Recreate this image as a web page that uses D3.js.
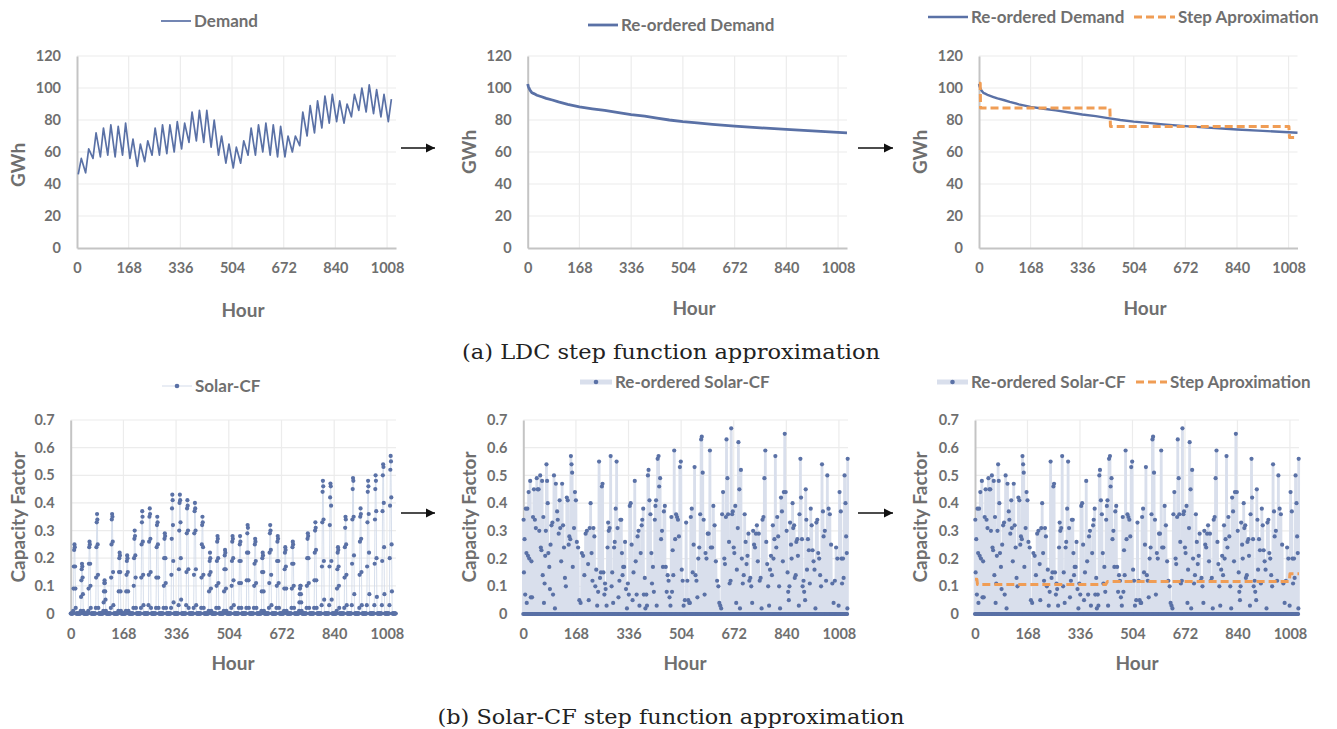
<!DOCTYPE html>
<html>
<head>
<meta charset="utf-8">
<script src="https://cdn.jsdelivr.net/npm/d3@7"></script>
<style>
  body { margin: 0; background: #fff; }
  text { font-family: Lato, 'Open Sans', sans-serif; }
</style>
</head>
<body>
<svg id="chart" width="1337" height="729"></svg>
<script>
// ---- data ----
const hourMax = 1037;
const hourTicks = [0, 168, 336, 504, 672, 840, 1008];
const gwhTicks = [0, 20, 40, 60, 80, 100, 120];
const cfTicks = [0, 0.1, 0.2, 0.3, 0.4, 0.5, 0.6, 0.7];

// daily trough / peak of the hourly demand (GWh), 43 days
const demandLow = [46, 47, 56, 57, 58, 57, 58, 56, 51, 54, 58, 58, 59, 60, 62, 66, 67, 66, 63, 58, 53,
  50, 53, 58, 58, 60, 58, 57, 57, 60, 64, 70, 72, 75, 78, 79, 78, 82, 86, 85, 84, 82, 79];
const demandHigh = [56, 62, 72, 75, 77, 76, 78, 68, 65, 67, 75, 77, 77, 79, 78, 85, 86, 86, 80, 70, 65,
  63, 67, 75, 77, 78, 77, 76, 70, 70, 85, 89, 92, 95, 96, 92, 90, 96, 100, 102, 99, 96, 93];

// load duration curve [hour, GWh]
const reorderedDemand = [[0, 102.5], [2, 101], [4, 100], [8, 98.5], [14, 97], [20, 96.5], [30, 95.5],
  [45, 94.5], [60, 93.5], [80, 92.5], [100, 91.3], [130, 89.8], [168, 88.2], [210, 87], [250, 86],
  [300, 84.5], [336, 83.4], [380, 82.4], [420, 81.2], [460, 80], [504, 79], [550, 78.2], [600, 77.3],
  [672, 76.2], [756, 75.1], [840, 74.1], [924, 73.2], [1008, 72.3], [1037, 72]];

const stepDemand = [[0, 103], [4, 103], [5, 87.5], [426, 87.5], [428, 76], [1009, 76], [1011, 69], [1037, 69]];

// solar capacity factor, daylight hours 8..16 of each day (night = 0)
const solarDaylight = [
  [.01, .09, .17, .23, .25, .24, .17, .09, .02],
  [.01, .06, .12, .16, .18, .17, .13, .07, .01],
  [.01, .09, .18, .24, .26, .25, .18, .10, .02],
  [.02, .13, .24, .33, .36, .34, .25, .14, .02],
  [.01, .04, .08, .11, .12, .11, .08, .05, .01],
  [.02, .13, .25, .34, .36, .35, .26, .15, .03],
  [.01, .08, .15, .20, .22, .21, .15, .08, .01],
  [.01, .08, .14, .19, .21, .20, .15, .08, .01],
  [.02, .10, .20, .27, .30, .28, .21, .13, .02],
  [.02, .13, .25, .33, .37, .35, .26, .14, .03],
  [.03, .14, .26, .35, .38, .36, .27, .15, .02],
  [.02, .13, .24, .32, .35, .33, .25, .13, .02],
  [.02, .10, .20, .27, .29, .28, .20, .11, .02],
  [.02, .14, .27, .38, .43, .41, .32, .19, .04],
  [.03, .16, .30, .40, .43, .41, .33, .20, .05],
  [.03, .15, .29, .38, .41, .39, .30, .16, .02],
  [.02, .14, .29, .37, .40, .38, .30, .16, .03],
  [.02, .13, .25, .32, .35, .33, .24, .14, .02],
  [.01, .08, .14, .19, .22, .20, .15, .09, .01],
  [.02, .10, .19, .26, .28, .27, .20, .11, .02],
  [.01, .08, .16, .21, .23, .22, .16, .09, .01],
  [.02, .10, .19, .26, .28, .27, .20, .12, .03],
  [.02, .11, .19, .25, .28, .26, .19, .11, .02],
  [.02, .12, .22, .29, .32, .31, .22, .12, .02],
  [.02, .10, .18, .25, .27, .26, .19, .11, .02],
  [.01, .08, .15, .20, .22, .21, .15, .08, .01],
  [.02, .11, .22, .29, .32, .30, .23, .14, .03],
  [.02, .10, .19, .26, .28, .27, .19, .11, .02],
  [.01, .09, .16, .22, .24, .23, .17, .09, .01],
  [.02, .09, .18, .24, .26, .25, .18, .10, .02],
  [.01, .04, .07, .09, .10, .10, .07, .04, .01],
  [.02, .10, .20, .27, .29, .28, .20, .11, .02],
  [.02, .12, .22, .30, .33, .31, .23, .12, .02],
  [.03, .17, .33, .44, .48, .46, .34, .19, .05],
  [.03, .17, .32, .42, .47, .46, .39, .19, .05],
  [.01, .09, .16, .22, .24, .23, .17, .10, .02],
  [.02, .13, .24, .31, .35, .34, .25, .14, .03],
  [.03, .18, .34, .45, .49, .48, .35, .21, .07],
  [.02, .14, .26, .35, .38, .36, .27, .15, .03],
  [.03, .17, .33, .44, .48, .46, .36, .22, .07],
  [.03, .18, .34, .45, .50, .48, .37, .20, .06],
  [.03, .19, .37, .50, .54, .53, .40, .24, .07],
  [.03, .20, .39, .52, .57, .55, .42, .25, .08]
];

// re-ordered solar CF: non-zero hours [hour, CF], every other hour is 0
const reorderedSolar = [
  [1, .34], [2, .15], [4, .27], [6, .07], [8, .38], [10, .22], [11, .04], [13, .38], [15, .21], [17, .44],
  [19, .20], [22, .48], [24, .06], [26, .19], [28, .06], [31, .35], [34, .45], [37, .34], [40, .31], [43, .49],
  [46, .45], [49, .45], [51, .30], [54, .50], [56, .24], [58, .23], [60, .48], [62, .14], [64, .35], [66, .04],
  [68, .11], [70, .21], [72, .30], [74, .54], [76, .48], [78, .40], [80, .22], [83, .17], [85, .09], [87, .25],
  [90, .32], [93, .33], [95, .07], [98, .50], [101, .02], [104, .47], [108, .37], [110, .34], [113, .29],
  [116, .41], [118, .31], [121, .19], [124, .47], [127, .32], [130, .24], [133, .13], [136, .10], [139, .42],
  [142, .41], [145, .25], [147, .28], [150, .27], [152, .57], [154, .54], [156, .51], [158, .17], [162, .31],
  [165, .44], [168, .41], [171, .26], [175, .24], [179, .05], [183, .04], [187, .22], [191, .21], [195, .14],
  [199, .29], [203, .30], [207, .18], [209, .05], [212, .31], [215, .40], [218, .22], [221, .12], [224, .31],
  [227, .28], [230, .10], [233, .16], [236, .03], [239, .08], [242, .55], [245, .13], [248, .15], [251, .46],
  [253, .47], [256, .15], [259, .07], [261, .11], [263, .09], [266, .03], [269, .24], [271, .33], [273, .30],
  [276, .31], [279, .57], [282, .10], [284, .15], [287, .04], [290, .24], [292, .26], [295, .38], [298, .55],
  [301, .31], [304, .06], [307, .12], [310, .34], [313, .34], [315, .22], [317, .14], [319, .17], [322, .17],
  [325, .26], [328, .09], [331, .02], [334, .11], [337, .07], [340, .39], [343, .40], [346, .25], [349, .05],
  [352, .15], [356, .48], [359, .19], [362, .07], [365, .28], [368, .30], [371, .03], [375, .22], [378, .32],
  [380, .34], [383, .38], [385, .07], [388, .13], [390, .02], [393, .07], [395, .03], [398, .50], [400, .52],
  [403, .41], [406, .36], [409, .22], [411, .11], [414, .17], [417, .08], [420, .34], [422, .39], [424, .41],
  [426, .03], [429, .56], [432, .57], [434, .46], [437, .49], [440, .27], [443, .30], [446, .17], [449, .37],
  [452, .39], [455, .17], [458, .08], [461, .14], [464, .12], [467, .06], [470, .03], [473, .35], [475, .08],
  [477, .23], [479, .14], [482, .59], [485, .27], [488, .36], [491, .35], [494, .34], [497, .28], [500, .53],
  [503, .55], [506, .16], [509, .12], [512, .03], [516, .05], [520, .33], [524, .12], [527, .05], [530, .04],
  [532, .04], [535, .35], [538, .38], [541, .15], [544, .25], [547, .53], [550, .14], [553, .12], [556, .06],
  [559, .20], [562, .24], [565, .36], [568, .63], [570, .64], [573, .51], [576, .34], [579, .07], [582, .22],
  [585, .20], [589, .29], [592, .29], [596, .59], [599, .24], [603, .24], [607, .39], [611, .32], [615, .19],
  [619, .12], [623, .10], [626, .04], [629, .03], [632, .02], [635, .36], [638, .44], [642, .20], [644, .18],
  [647, .35], [649, .63], [652, .49], [654, .36], [657, .26], [659, .11], [662, .12], [664, .67], [667, .36],
  [669, .37], [672, .24], [674, .22], [677, .39], [680, .04], [682, .16], [685, .31], [687, .62], [690, .45],
  [692, .02], [695, .52], [698, .20], [701, .11], [704, .14], [707, .36], [710, .26], [713, .18], [716, .21],
  [719, .29], [722, .12], [725, .13], [728, .10], [731, .04], [734, .30], [737, .25], [740, .24], [743, .29],
  [746, .32], [749, .19], [752, .29], [755, .12], [758, .13], [761, .02], [764, .34], [767, .35], [770, .49],
  [773, .59], [776, .26], [779, .18], [782, .10], [785, .03], [788, .16], [791, .21], [794, .14], [797, .32],
  [799, .20], [802, .27], [805, .57], [808, .24], [811, .35], [814, .28], [817, .10], [820, .02], [823, .42],
  [826, .37], [829, .19], [832, .44], [835, .65], [838, .44], [841, .30], [844, .15], [846, .08], [848, .05],
  [850, .10], [852, .33], [855, .25], [857, .20], [860, .40], [862, .31], [865, .32], [867, .13], [870, .14],
  [872, .26], [875, .27], [877, .21], [880, .03], [882, .36], [885, .56], [887, .42], [890, .27], [892, .10],
  [895, .12], [897, .08], [900, .05], [902, .45], [904, .34], [906, .16], [909, .27], [912, .23], [915, .11],
  [918, .38], [921, .32], [924, .23], [927, .19], [930, .16], [933, .02], [936, .33], [939, .34], [942, .22],
  [945, .20], [948, .14], [951, .10], [954, .54], [957, .37], [959, .28], [963, .30], [967, .12], [971, .50],
  [975, .38], [979, .36], [983, .25], [987, .11], [991, .04], [995, .12], [999, .24], [1003, .20], [1007, .03],
  [1010, .44], [1014, .37], [1016, .20], [1018, .11], [1021, .20], [1023, .13], [1026, .50], [1029, .40],
  [1031, .28], [1033, .22], [1035, .02], [1036, .56]
];

const stepSolar = [[0, .125], [6, .125], [8, .106], [418, .106], [424, .117], [1006, .117], [1008, .145], [1037, .145]];

// ---- series built from the arrays ----
const demandPts = demandLow.flatMap((lo, i) => [[i * 24 + 4, lo], [i * 24 + 14, demandHigh[i]]]);

const solarPts = d3.range(hourMax).map((h) => {
  const day = Math.floor(h / 24), hr = h % 24;
  const row = solarDaylight[day];
  return [h, row && hr >= 8 && hr <= 16 ? row[hr - 8] : 0];
});

const reorderedLookup = new Map(reorderedSolar);
const reorderedSolarPts = d3.range(hourMax).map((h) => [h, reorderedLookup.get(h) || 0]);

// ---- styles ----
const blue = '#5a71a6';
const orange = '#f09d55';
const paleBlue = '#d3dbea';
const fillBlue = '#d9dfec';
const grey = '#6f6f6f';

const svg = d3.select('#chart');

svg.append('defs').append('marker')
  .attr('id', 'arrow')
  .attr('viewBox', '0 0 10 10')
  .attr('refX', 10).attr('refY', 5)
  .attr('markerWidth', 7).attr('markerHeight', 7)
  .attr('orient', 'auto')
  .append('path').attr('d', 'M0,0L10,5L0,10z').attr('fill', '#111');

const cfFormat = (d) => d === 0 ? '0' : d3.format('.1f')(d);

const panels = [
  {
    left: 77, right: 396, top: 56, bottom: 248, yMax: 120, yTicks: gwhTicks, fmt: d3.format('d'),
    yTitle: 'GWh', yTitlePos: [18, 165], xTitlePos: [243, 310],
    series: [{ data: demandPts, color: blue, width: 1.7 }],
    legend: { y: 21, items: [{ x: 161, w: 30, kind: 'line', color: blue, width: 1.7, label: 'Demand' }] }
  },
  {
    left: 527.7, right: 847, top: 56, bottom: 248, yMax: 120, yTicks: gwhTicks, fmt: d3.format('d'),
    yTitle: 'GWh', yTitlePos: [469, 152], xTitlePos: [694, 308],
    series: [{ data: reorderedDemand, color: blue, width: 2.8 }],
    legend: { y: 25, items: [{ x: 588, w: 30, kind: 'line', color: blue, width: 2.8, label: 'Re-ordered Demand' }] }
  },
  {
    left: 979, right: 1297.5, top: 56, bottom: 248, yMax: 120, yTicks: gwhTicks, fmt: d3.format('d'),
    yTitle: 'GWh', yTitlePos: [920, 152], xTitlePos: [1145, 308],
    series: [
      { data: reorderedDemand, color: blue, width: 2.4 },
      { data: stepDemand, color: orange, width: 3, dash: '8,4', top: true }
    ],
    legend: {
      y: 17, items: [
        { x: 928, w: 40, kind: 'line', color: blue, width: 2.4, label: 'Re-ordered Demand' },
        { x: 1134, w: 41, kind: 'line', color: orange, width: 3, dash: '8,4', label: 'Step Aproximation' }
      ]
    }
  },
  {
    left: 70.7, right: 396, top: 420, bottom: 613.5, yMax: 0.7, yTicks: cfTicks, fmt: cfFormat,
    yTitle: 'Capacity Factor', yTitlePos: [18, 517], xTitlePos: [233, 663],
    series: [{ data: solarPts, color: paleBlue, width: 0.9, dots: true }],
    legend: { y: 386, items: [{ x: 162, w: 30, kind: 'dotline', color: paleBlue, width: 1, label: 'Solar-CF' }] }
  },
  {
    left: 523.3, right: 848, top: 420, bottom: 614, yMax: 0.7, yTicks: cfTicks, fmt: cfFormat,
    yTitle: 'Capacity Factor', yTitlePos: [469, 517], xTitlePos: [685, 663],
    series: [{ data: reorderedSolarPts, color: fillBlue, width: 2.8, dots: true }],
    legend: { y: 382, items: [{ x: 580, w: 32, kind: 'dotline', color: fillBlue, width: 5, label: 'Re-ordered Solar-CF' }] }
  },
  {
    left: 975, right: 1299, top: 420, bottom: 614, yMax: 0.7, yTicks: cfTicks, fmt: cfFormat,
    yTitle: 'Capacity Factor', yTitlePos: [920, 517], xTitlePos: [1137, 663],
    series: [
      { data: reorderedSolarPts, color: fillBlue, width: 2.8, dots: true },
      { data: stepSolar, color: orange, width: 3, dash: '8,4', top: true }
    ],
    legend: {
      y: 382, items: [
        { x: 937, w: 31, kind: 'dotline', color: fillBlue, width: 5, label: 'Re-ordered Solar-CF' },
        { x: 1136, w: 31, kind: 'line', color: orange, width: 3, dash: '8,4', label: 'Step Aproximation' }
      ]
    }
  }
];

function drawPanel(p) {
  const g = svg.append('g');
  const x = d3.scaleLinear().domain([0, hourMax]).range([p.left, p.right]);
  const y = d3.scaleLinear().domain([0, p.yMax]).range([p.bottom, p.top]);

  // gridlines
  g.append('g').selectAll('line').data(p.yTicks.slice(1)).join('line')
    .attr('x1', p.left).attr('x2', p.right)
    .attr('y1', (d) => y(d)).attr('y2', (d) => y(d))
    .attr('stroke', '#ececec').attr('stroke-width', 1.2);
  g.append('g').selectAll('line').data(hourTicks.slice(1)).join('line')
    .attr('x1', (d) => x(d)).attr('x2', (d) => x(d))
    .attr('y1', p.top).attr('y2', p.bottom)
    .attr('stroke', '#ececec').attr('stroke-width', 1.2);

  // axes
  const yAxis = g.append('g')
    .attr('transform', `translate(${p.left},0)`)
    .call(d3.axisLeft(y).tickValues(p.yTicks).tickFormat(p.fmt).tickSize(0).tickPadding(16));
  const xAxis = g.append('g')
    .attr('transform', `translate(0,${p.bottom})`)
    .call(d3.axisBottom(x).tickValues(hourTicks).tickFormat(d3.format('d')).tickSize(0).tickPadding(15));
  [yAxis, xAxis].forEach((ax) => {
    ax.select('.domain').attr('stroke', '#c4c4c4').attr('stroke-width', 2);
    ax.selectAll('text')
      .attr('fill', grey).attr('font-size', '14.5px').attr('font-weight', 700)
      .style('font-family', 'Lato, sans-serif');
  });

  // series lines
  const line = d3.line().x((d) => x(d[0])).y((d) => y(d[1]));
  const drawLine = (s) => g.append('path')
    .datum(s.data)
    .attr('d', line)
    .attr('fill', 'none')
    .attr('stroke', s.color)
    .attr('stroke-width', s.width)
    .attr('stroke-dasharray', s.dash || null)
    .attr('stroke-linejoin', 'round');

  p.series.filter((s) => !s.top).forEach((s) => {
    drawLine(s);
    if (s.dots) {
      g.append('g').selectAll('circle').data(s.data).join('circle')
        .attr('cx', (d) => x(d[0])).attr('cy', (d) => y(d[1]))
        .attr('r', 2.1).attr('fill', blue);
    }
  });
  p.series.filter((s) => s.top).forEach(drawLine);

  // titles
  g.append('text')
    .attr('transform', `translate(${p.yTitlePos[0]},${p.yTitlePos[1]}) rotate(-90)`)
    .attr('text-anchor', 'middle').attr('dy', '0.36em')
    .attr('font-size', '19px').attr('font-weight', 700).attr('fill', grey)
    .text(p.yTitle);
  g.append('text')
    .attr('x', p.xTitlePos[0]).attr('y', p.xTitlePos[1])
    .attr('text-anchor', 'middle').attr('dy', '0.36em')
    .attr('font-size', '19px').attr('font-weight', 700).attr('fill', grey)
    .text('Hour');

  // legend
  const ly = p.legend.y;
  p.legend.items.forEach((it) => {
    g.append('line')
      .attr('x1', it.x).attr('x2', it.x + it.w).attr('y1', ly).attr('y2', ly)
      .attr('stroke', it.color).attr('stroke-width', it.width)
      .attr('stroke-dasharray', it.dash || null);
    if (it.kind === 'dotline') {
      g.append('circle').attr('cx', it.x + it.w / 2).attr('cy', ly).attr('r', 2.3).attr('fill', blue);
    }
    g.append('text')
      .attr('x', it.x + it.w + 3).attr('y', ly).attr('dy', '0.36em')
      .attr('font-size', '17px').attr('font-weight', 700).attr('fill', grey)
      .text(it.label);
  });
}

panels.forEach(drawPanel);

// arrows between panels
[[401, 435, 148], [858, 893, 148], [401, 435, 513], [858, 893, 513]].forEach(([x1, x2, yy]) => {
  svg.append('line')
    .attr('x1', x1).attr('x2', x2).attr('y1', yy).attr('y2', yy)
    .attr('stroke', '#111').attr('stroke-width', 1.3)
    .attr('marker-end', 'url(#arrow)');
});

// captions
const captions = [
  { text: '(a) LDC step function approximation', y: 359, width: 418 },
  { text: '(b) Solar-CF step function approximation', y: 724, width: 467 }
];
svg.selectAll('text.caption').data(captions).join('text')
  .attr('class', 'caption')
  .attr('x', 671).attr('y', (d) => d.y)
  .attr('text-anchor', 'middle')
  .attr('font-size', '21px')
  .attr('textLength', (d) => d.width)
  .attr('lengthAdjust', 'spacingAndGlyphs')
  .style('font-family', "'DejaVu Serif', serif")
  .attr('fill', '#222')
  .text((d) => d.text);
</script>
</body>
</html>
